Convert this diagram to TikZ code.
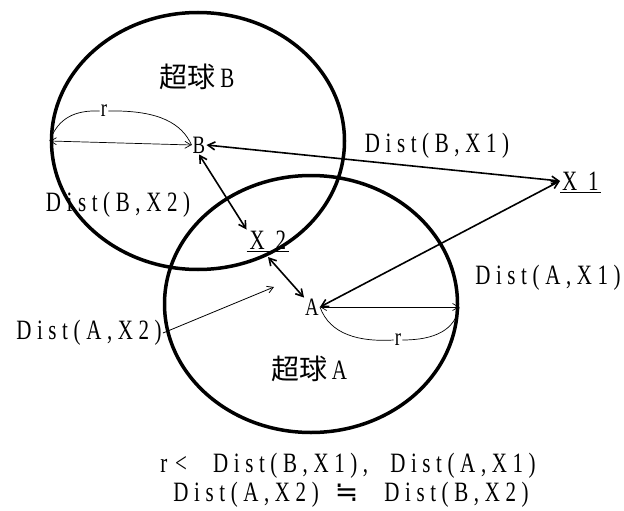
\documentclass[tikz,border=0pt]{standalone}
\usepackage{fontspec}
\setmainfont{Liberation Serif}[FakeStretch=0.75,LetterSpace=20]
\newfontfamily\cjk{Noto Sans CJK JP}
\newfontfamily\symb{DejaVu Sans}
\usetikzlibrary{arrows.meta,shapes.geometric,positioning}

\begin{document}
\begin{tikzpicture}[x=1pt,y=-1pt,
  sphere/.style={ellipse, draw=black, line width=3.5pt, minimum width=293pt, minimum height=257pt, inner sep=0pt},
  lbl/.style={font=\fontsize{28}{30}\selectfont, inner sep=1pt},
  pt/.style={font=\fontsize{25}{27}\selectfont, inner sep=1pt},
  dist/.style={<->, >={Straight Barb[length=7pt,width=8pt]}, line width=1.6pt},
  radius/.style={<->, >={Straight Barb[length=6pt,width=7pt]}, line width=0.7pt},
  pointer/.style={->, >={Straight Barb[length=6pt,width=7pt]}, line width=0.8pt},
  curve/.style={line width=0.7pt}
]
\useasboundingbox (0,0) rectangle (624,511);

% Hyperspheres
\node[sphere] (eB) at (198,141) {};
\node[sphere] (eA) at (311,304) {};

% Points and labels
\node[pt] (B) at (199,145) {B};
\node[pt] (A) at (312,307) {A};
\node[lbl, anchor=west, inner xsep=2pt] (X1) at (560,181) {X 1};
\node[lbl, inner xsep=3pt] (X2) at (268,240) {X 2};
\coordinate (x2pt) at (268,257);
\coordinate (lens) at (274,287);
\node[lbl] (tB) at (197,77) {{\cjk 超球}\,B};
\node[lbl] (tA) at (309,369) {{\cjk 超球}\,A};
\node[pt] (rB) at (104,111) {r};
\node[pt] (rA) at (398,340) {r};
\node[lbl] (dBX1) at (437,146) {Dist(B,X1)};
\node[lbl] (dBX2) at (118,205) {Dist(B,X2)};
\node[lbl] (dAX1) at (548,278) {Dist(A,X1)};
\node[lbl] (dAX2) at (89,333) {Dist(A,X2)};

% Underlines
\draw[line width=1pt] ([yshift=-1pt]X1.south west) -- ([yshift=-1pt]X1.south east);
\draw[line width=1pt] ([yshift=-1pt]X2.south west) -- ([yshift=-1pt]X2.south east);

% Distances
\draw[dist] (B.east) -- (X1.west);
\draw[dist] (A.east) -- (X1.west);
\draw[dist] (B.south) -- (X2.north west);
\draw[dist] (x2pt) -- (A.north west);
\draw[pointer] (dAX2.east) -- (lens);

% Radii
\draw[radius] (eB.west) -- (B.west);
\draw[radius] (A.east) -- (eA.east |- A.east);
\draw[curve] (eB.west) .. controls (58,118) and (75,110) .. (rB.west);
\draw[curve] (rB.east) .. controls (160,110) and (182,124) .. (B.west);
\draw[curve] (A.east) .. controls (330,335) and (360,342) .. (rA.west);
\draw[curve] (rA.east) .. controls (435,340) and (455,330) .. (eA.east |- A.east);

% Conditions
\node[lbl] (c1) at (348,466) {r\hspace{8pt}<\hspace{26pt}Dist(B,X1),\hspace{22pt}Dist(A,X1)};
\node[lbl] (c2) at (351,495) {Dist(A,X2)\hspace{16pt}{\symb ≒}\hspace{26pt}Dist(B,X2)};
\end{tikzpicture}
\end{document}
